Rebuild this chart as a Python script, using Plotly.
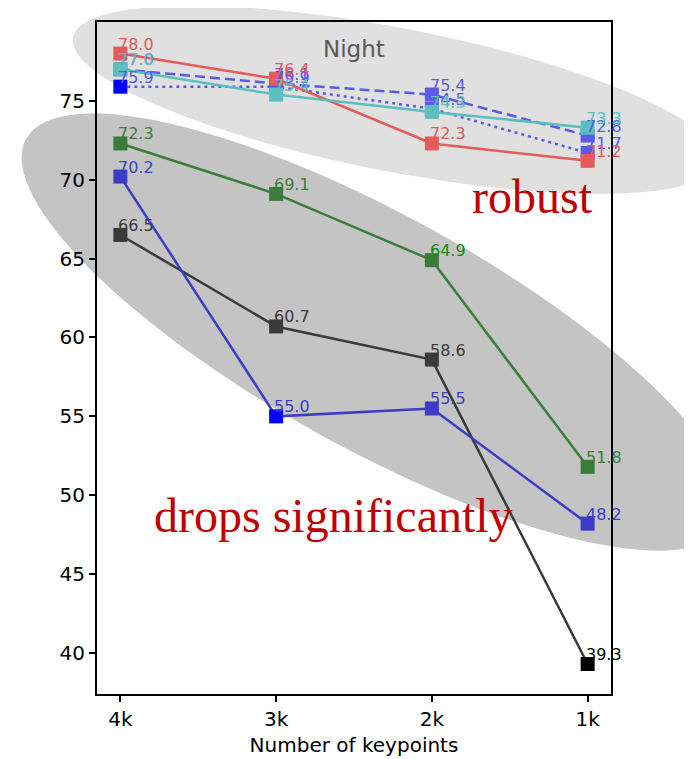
import numpy as np
import plotly.graph_objects as go

categories = ["4k", "3k", "2k", "1k"]
red_vals = [78.0, 76.4, 72.3, 71.2]
cyan_vals = [77.0, 75.4, 74.3, 73.3]
dash_vals = [77.0, 76.1, 75.4, 72.8]
dot_vals = [75.9, 75.9, 74.5, 71.7]
green_vals = [72.3, 69.1, 64.9, 51.8]
blue_vals = [70.2, 55.0, 55.5, 48.2]
black_vals = [66.5, 60.7, 58.6, 39.3]
y_ticks = [40, 45, 50, 55, 60, 65, 70, 75]

W, H = 692, 759
OFF = 8  # page body margin
L, R, T, B = 97 - OFF, 611 - OFF, 20 - OFF, 694 - OFF

def px2paper(x, y):
    x -= OFF
    y -= OFF
    return (x - L) / (R - L), (B - y) / (B - T)

def ellipse_path(cx, cy, a, b, deg):
    th = np.deg2rad(deg)
    t = np.linspace(0, 2 * np.pi, 121)
    xs = cx + a * np.cos(t) * np.cos(th) - b * np.sin(t) * np.sin(th)
    ys = cy + a * np.cos(t) * np.sin(th) + b * np.sin(t) * np.cos(th)
    pts = [px2paper(x, y) for x, y in zip(xs, ys)]
    return "M " + " L ".join(f"{p[0]:.4f},{p[1]:.4f}" for p in pts) + " Z"

fig = go.Figure()

series = [
    (black_vals, "#3a3a3a", "solid", ["#3a3a3a", "#3a3a3a", "#3a3a3a", "#000000"], ["#3a3a3a", "#3a3a3a", "#3a3a3a", "#000000"]),
    (blue_vals, "#3c3cc8", "solid", ["#3c3cc8", "#0000ff", "#3c3cc8", "#3c3cc8"], ["#3c3cc8"] * 4),
    (green_vals, "#3a7d3a", "solid", ["#3a7d3a"] * 4, ["#3a7d3a", "#3a7d3a", "#108a10", "#3a7d3a"]),
    (dot_vals, "#5a5ae6", "3px,4px", ["#0000ff", "#5a5ae6", "#5a5ae6", "#5a5ae6"], ["#5a5ae6"] * 4),
    (dash_vals, "#5a5ae6", "10px,5px", ["#5a5ae6"] * 4, ["#5a5ae6"] * 4),
    (red_vals, "#e35b5b", "solid", ["#e35b5b"] * 4, ["#e35b5b"] * 4),
    (cyan_vals, "#5bbfbf", "solid", ["#5bbfbf"] * 4, ["#5bbfbf"] * 4),
]

annotations = []
for vals, col, dash, mcols, tcols in series:
    fig.add_trace(go.Scatter(
        x=categories, y=vals, mode="lines+markers",
        line=dict(color=col, width=2.5, dash=dash),
        marker=dict(symbol="square", size=14, color=mcols, line=dict(width=0)),
        showlegend=False, hoverinfo="skip"))
    for c, v, tc in zip(categories, vals, tcols):
        annotations.append(dict(x=c, y=v, xref="x", yref="y", text=f"{v:.1f}",
                                showarrow=False, xanchor="left", yanchor="bottom",
                                xshift=-4, yshift=-2,
                                font=dict(family="DejaVu Sans", size=16, color=tc)))

shapes = [
    dict(type="path", path=ellipse_path(395, 98, 328, 72, 11), xref="paper", yref="paper",
         fillcolor="#e0e0e0", line=dict(width=0), layer="below"),
    dict(type="path", path=ellipse_path(376, 331, 400, 117, 29), xref="paper", yref="paper",
         fillcolor="#c4c4c4", line=dict(width=0), layer="below"),
]

nx, ny = px2paper(354, 47)
annotations.append(dict(x=nx, y=ny, xref="paper", yref="paper", text="Night", showarrow=False,
                        xanchor="center", yanchor="middle",
                        font=dict(family="DejaVu Sans", size=23, color="#595959")))
rx, ry = px2paper(470, 195)
annotations.append(dict(x=rx, y=ry, xref="paper", yref="paper", text="robust", showarrow=False,
                        xanchor="left", yanchor="middle",
                        font=dict(family="Liberation Serif", size=48, color="#c00000")))
dx, dy = px2paper(152, 515)
annotations.append(dict(x=dx, y=dy, xref="paper", yref="paper", text="drops significantly", showarrow=False,
                        xanchor="left", yanchor="middle",
                        font=dict(family="Liberation Serif", size=48, color="#c00000")))

fig.update_layout(
    width=W, height=H,
    margin=dict(l=L, r=W - R, t=T, b=H - B),
    paper_bgcolor="white", plot_bgcolor="rgba(0,0,0,0)",
    shapes=shapes, annotations=annotations,
    font=dict(family="DejaVu Sans", color="black"),
)
fig.update_xaxes(range=[-0.15, 3.15], showgrid=False, zeroline=False,
                 showline=True, linecolor="black", linewidth=2, mirror=True,
                 ticks="outside", ticklen=6, tickwidth=1.5, tickcolor="black",
                 tickfont=dict(size=20, color="black"),
                 title=dict(text="Number of keypoints", font=dict(size=20, color="black"), standoff=8))
fig.update_yaxes(range=[37.4, 80.0], showgrid=False, zeroline=False,
                 showline=True, linecolor="black", linewidth=2, mirror=True,
                 ticks="outside", ticklen=6, tickwidth=1.5, tickcolor="black",
                 tickvals=y_ticks, tickfont=dict(size=20, color="black"))

fig.write_html("out.html")
